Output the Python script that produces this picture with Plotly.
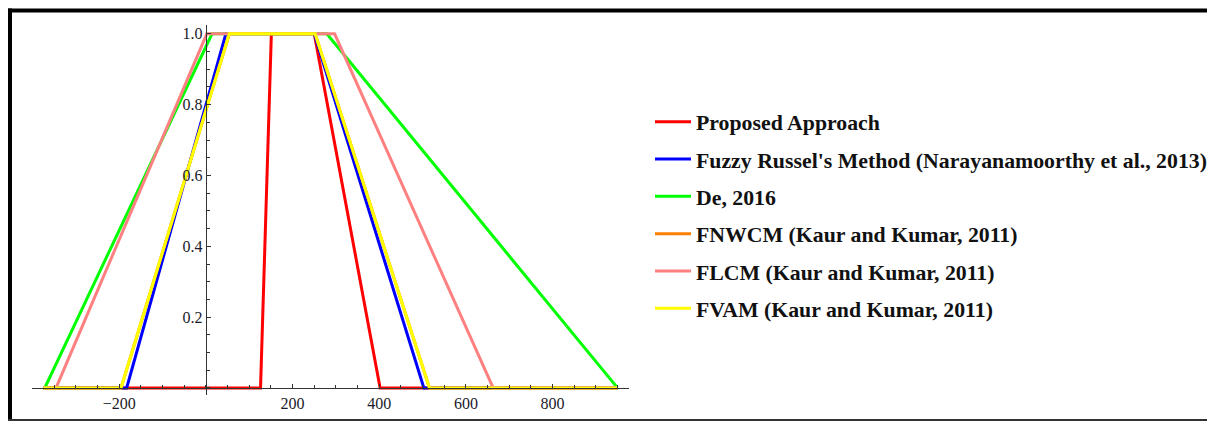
import plotly.graph_objects as go

# page body has an 8px margin, so the figure is 8px smaller than the window
OFF = 8
W, H = 1215 - OFF, 421 - OFF

# Plot domain of the fuzzy membership functions
x_start, x_end = -375, 950

series_names = [
    "Proposed Approach",
    "Fuzzy Russel's Method (Narayanamoorthy et al., 2013)",
    "De, 2016",
    "FNWCM (Kaur and Kumar, 2011)",
    "FLCM (Kaur and Kumar, 2011)",
    "FVAM (Kaur and Kumar, 2011)",
]
# trapezoidal fuzzy numbers (a, b, c, d)
proposed = [126, 151, 250, 402]
russel = [-183, 46, 250, 503]
de2016 = [-372, 14, 279, 950]
fnwcm = [-196, 54, 252, 516]
flcm = [-346, 2, 297, 663]
fvam = [-196, 54, 252, 516]
series_values = [proposed, russel, de2016, fnwcm, flcm, fvam]
series_colors = ["#FF0000", "#0000FF", "#00FF00", "#FF8000", "#FF8080", "#FFFF00"]

membership = [0, 0, 1, 1, 0, 0]

x_tickvals = [-200, 200, 400, 600, 800]
x_ticktext = ["\u2212200", "200", "400", "600", "800"]
y_tickvals = [0.2, 0.4, 0.6, 0.8, 1.0]
y_ticktext = ["0.2", "0.4", "0.6", "0.8", "1.0"]

SERIF = "Liberation Serif"

fig = go.Figure()
for i, (name, vals, col) in enumerate(zip(series_names, series_values, series_colors)):
    xs = [x_start] + list(vals) + [x_end]
    fig.add_trace(go.Scatter(
        x=xs, y=membership, mode="lines", name="<b>%s</b>" % name,
        line=dict(color=col, width=3),
        legendgroup="g%d" % i,
    ))

tick_font = dict(family=SERIF, size=16, color="#1a1a2a")

# pixel geometry (screen coordinates) of the plot area
px_left, px_right = 32 - OFF, 629 - OFF
px_top, px_bottom = 25 - OFF, 395 - OFF
px_x_axis = 388.3 - OFF
px_y_axis = 205.7 - OFF

fig.update_layout(
    width=W, height=H,
    margin=dict(l=0, r=0, t=0, b=0),
    paper_bgcolor="white", plot_bgcolor="white",
    showlegend=True,
    legend=dict(
        x=(650 - OFF) / W, y=1 - (101 - OFF) / H, xanchor="left", yanchor="top",
        font=dict(family=SERIF, size=21.8, color="#111"),
        tracegroupgap=6, bgcolor="rgba(0,0,0,0)", borderwidth=0,
        traceorder="grouped", itemwidth=36,
    ),
    xaxis=dict(
        domain=[px_left / W, px_right / W],
        range=[-401.5, 976.5],
        anchor="free", position=1 - px_x_axis / H,
        showline=True, linecolor="#333", linewidth=1,
        showgrid=False, zeroline=False,
        ticks="inside", ticklen=4, tickcolor="#333", tickwidth=1,
        tickmode="array", tickvals=x_tickvals, ticktext=x_ticktext,
        tickfont=tick_font,
        minor=dict(dtick=50, tick0=0, ticks="inside", ticklen=3, tickcolor="#333", showgrid=False),
    ),
    yaxis=dict(
        domain=[1 - px_bottom / H, 1 - px_top / H],
        range=[-0.02, 1.025],
        anchor="free", position=px_y_axis / W,
        showline=True, linecolor="#333", linewidth=1,
        showgrid=False, zeroline=False,
        ticks="inside", ticklen=4, tickcolor="#333", tickwidth=1,
        tickmode="array", tickvals=y_tickvals, ticktext=y_ticktext,
        tickfont=tick_font,
        minor=dict(dtick=0.05, tick0=0, ticks="inside", ticklen=3, tickcolor="#333", showgrid=False),
    ),
)

# outer frame of the figure image
fig.add_shape(type="line", xref="paper", yref="paper",
              x0=(8 - OFF) / W, x1=1.0, y0=1 - (10.5 - OFF) / H, y1=1 - (10.5 - OFF) / H,
              line=dict(color="black", width=4))
fig.add_shape(type="line", xref="paper", yref="paper",
              x0=(10 - OFF) / W, x1=(10 - OFF) / W, y0=1 - (8.5 - OFF) / H, y1=0,
              line=dict(color="black", width=4))
fig.add_shape(type="line", xref="paper", yref="paper",
              x0=(8 - OFF) / W, x1=1.0, y0=1 / H, y1=1 / H,
              line=dict(color="#333", width=2))

fig.write_html("out.html")
